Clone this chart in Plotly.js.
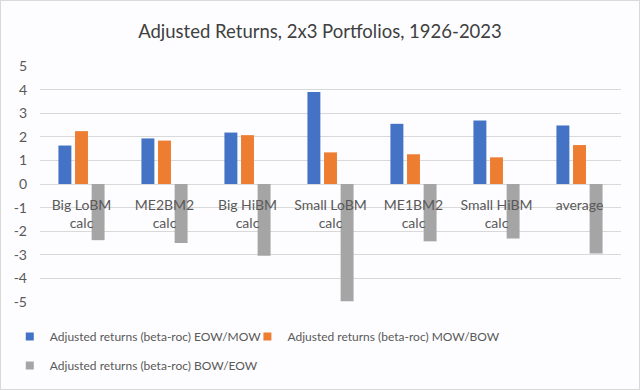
<!DOCTYPE html>
<html>
<head>
<meta charset="utf-8">
<script src="https://cdn.plot.ly/plotly-3.0.1.min.js"></script>
<style>
html,body{margin:0;padding:0;background:#fff;}
#chart{width:638px;height:388px;border:1px solid #d9d9d9;}
</style>
</head>
<body>
<div id="chart"></div>
<script>
const categories = ["Big LoBM<br>calc", "ME2BM2<br>calc", "Big HiBM<br>calc", "Small LoBM<br>calc", "ME1BM2<br>calc", "Small HiBM<br>calc", "average"];
const seriesNames = ["Adjusted returns (beta-roc) EOW/MOW", "Adjusted returns (beta-roc) MOW/BOW", "Adjusted returns (beta-roc) BOW/EOW"];
const eowMow = [1.63, 1.93, 2.18, 3.90, 2.55, 2.69, 2.48];
const mowBow = [2.24, 1.84, 2.07, 1.34, 1.26, 1.13, 1.65];
const bowEow = [-2.38, -2.50, -3.04, -4.97, -2.43, -2.31, -2.94];
const yTicks = [-5, -4, -3, -2, -1, 0, 1, 2, 3, 4, 5];

const colors = ["#4472C4", "#ED7D31", "#A5A5A5"];
const font = "Lato, 'Open Sans', sans-serif";
const legendIds = ["legend", "legend2", "legend3"];

const traces = [eowMow, mowBow, bowEow].map((v, i) => ({
  type: "bar",
  name: seriesNames[i],
  x: categories,
  y: v,
  marker: {color: colors[i]},
  showlegend: false,
  hoverinfo: "x+y"
}));
// legend entries with small square swatches
seriesNames.forEach((n, i) => traces.push({
  type: "scatter", mode: "markers", name: n,
  x: [categories[0]], y: [null],
  marker: {symbol: "square", size: 8, color: colors[i]},
  legend: legendIds[i],
  showlegend: true, hoverinfo: "skip"
}));

const legendStyle = {orientation: "h", xanchor: "left", yanchor: "top", itemwidth: 30,
                     font: {size: 12, color: "#595959"}, bgcolor: "rgba(0,0,0,0)"};

const layout = {
  width: 638, height: 388,
  paper_bgcolor: "#fdfdff", plot_bgcolor: "#fdfdff",
  margin: {l: 39, r: 18, t: 65, b: 87, autoexpand: false},
  font: {family: font, color: "#595959", size: 14},
  title: {text: "Adjusted Returns, 2x3 Portfolios, 1926-2023", x: 0.5, xanchor: "center", y: 0.922, yanchor: "middle",
          font: {family: font, size: 18.5, color: "#404040"}},
  barmode: "group",
  bargap: 0.4,
  bargroupgap: 0.22,
  xaxis: {type: "category", anchor: "free", position: 0.5, showgrid: false, zeroline: false,
          showline: false, ticks: "outside", ticklen: 8, tickcolor: "rgba(0,0,0,0)",
          tickfont: {size: 14, color: "#595959"}, fixedrange: true},
  yaxis: {range: [-5, 5], tickvals: yTicks, ticktext: yTicks.map(String), showgrid: true, gridcolor: "#d9d9d9",
          zeroline: true, zerolinecolor: "#d9d9d9", zerolinewidth: 1, ticks: "", ticklabelstandoff: 12,
          tickfont: {size: 14, color: "#595959"}, fixedrange: true},
  showlegend: true,
  legend: Object.assign({}, legendStyle, {x: -0.052, y: -0.085}),
  legend2: Object.assign({}, legendStyle, {x: 0.357, y: -0.085}),
  legend3: Object.assign({}, legendStyle, {x: -0.052, y: -0.208})
};

Plotly.newPlot("chart", traces, layout, {displayModeBar: false, staticPlot: true});
</script>
</body>
</html>
